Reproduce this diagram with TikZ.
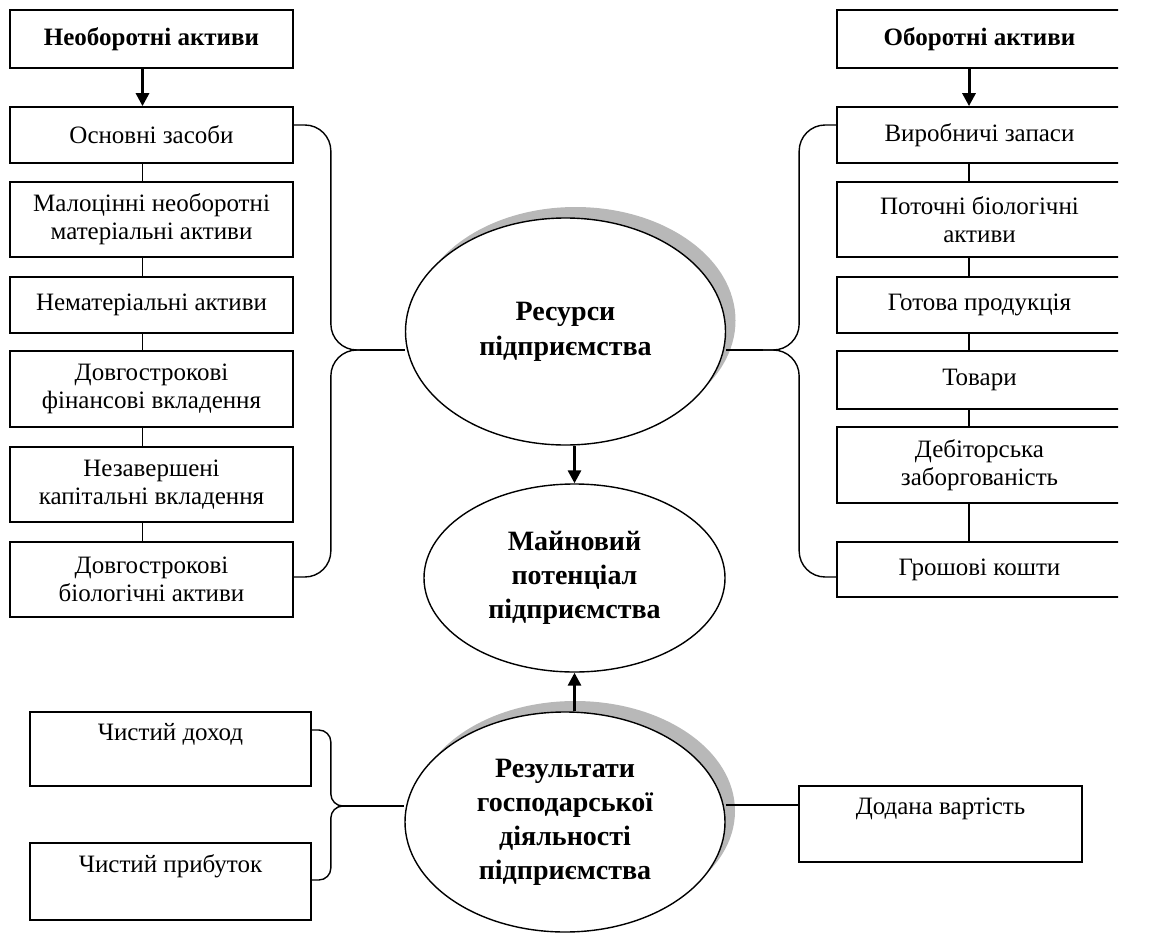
\documentclass[tikz,border=0pt]{standalone}
\usepackage{fontspec}
\setmainfont{Liberation Serif}
\usetikzlibrary{shapes.geometric,arrows.meta,calc}
\begin{document}
\begin{tikzpicture}[x=1pt,y=-1pt,
  box/.style={draw, line width=1.7pt, align=center, inner sep=0pt,
    font=\fontsize{25}{28}\selectfont},
  ttl/.style={box, font=\bfseries\fontsize{25}{28}\selectfont},
  txt/.style={inner sep=0pt, font=\fontsize{25}{28}\selectfont},
  oval/.style={ellipse, draw, line width=1.4pt, fill=white, inner sep=0pt, align=center,
    font=\bfseries\fontsize{28}{34}\selectfont},
  shade/.style={ellipse, fill=black!28, inner sep=0pt},
  link/.style={line width=1.4pt},
  brace/.style={line width=1.4pt},
  bigarrow/.style={line width=3pt, -{Triangle[length=13pt,width=13pt]}}
]
\useasboundingbox (0,0) rectangle (1158,934);

% ---------- left column ----------
\node[ttl, minimum width=283pt, minimum height=58pt] (lt) at (151.5,39) {Необоротні активи};
\node[box, minimum width=283pt, minimum height=56pt] (l1) at (151.5,135) {Основні засоби};
\node[box, minimum width=283pt, minimum height=75pt] (l2) at (151.5,219.5) {Малоцінні необоротні\\матеріальні активи};
\node[box, minimum width=283pt, minimum height=56pt] (l3) at (151.5,305) {Нематеріальні активи};
\node[box, minimum width=283pt, minimum height=76pt] (l4) at (151.5,389) {Довгострокові\\фінансові вкладення};
\node[box, minimum width=283pt, minimum height=75pt] (l5) at (151.5,484.5) {Незавершені\\капітальні вкладення};
\node[box, minimum width=283pt, minimum height=75pt] (l6) at (151.5,579.5) {Довгострокові\\біологічні активи};

\draw[bigarrow] ([xshift=-9pt]lt.south) -- ([xshift=-9pt]l1.north);
\draw[link] ([xshift=-9pt]l1.south) -- ([xshift=-9pt]l2.north);
\draw[link] ([xshift=-9pt]l2.south) -- ([xshift=-9pt]l3.north);
\draw[link] ([xshift=-9pt]l3.south) -- ([xshift=-9pt]l4.north);
\draw[link] ([xshift=-9pt]l4.south) -- ([xshift=-9pt]l5.north);
\draw[link] ([xshift=-9pt]l5.south) -- ([xshift=-9pt]l6.north);

% ---------- right column (cut at the right edge) ----------
\begin{scope}
\clip (0,0) rectangle (1118,934);
\node[ttl, minimum width=285pt, minimum height=58pt] (rt) at (979.5,39) {Оборотні активи};
\node[box, minimum width=285pt, minimum height=56pt] (r1) at (979.5,135) {Виробничі запаси};
\node[box, minimum width=285pt, minimum height=75pt] (r2) at (979.5,219.5) {Поточні біологічні\\активи};
\node[box, minimum width=285pt, minimum height=56pt] (r3) at (979.5,305) {Готова продукція};
\node[box, minimum width=285pt, minimum height=58pt] (r4) at (979.5,380) {Товари};
\node[box, minimum width=285pt, minimum height=76pt] (r5) at (979.5,465) {Дебіторська\\заборгованість};
\node[box, minimum width=285pt, minimum height=55pt] (r6) at (979.5,569.5) {Грошові кошти};
\end{scope}

\draw[bigarrow] ([xshift=-10.5pt]rt.south) -- ([xshift=-10.5pt]r1.north);
\draw[link] ([xshift=-10.5pt]r1.south) -- ([xshift=-10.5pt]r2.north);
\draw[link] ([xshift=-10.5pt]r2.south) -- ([xshift=-10.5pt]r3.north);
\draw[link] ([xshift=-10.5pt]r3.south) -- ([xshift=-10.5pt]r4.north);
\draw[link] ([xshift=-10.5pt]r4.south) -- ([xshift=-10.5pt]r5.north);
\draw[link] ([xshift=-10.5pt]r5.south) -- ([xshift=-10.5pt]r6.north);

% ---------- ellipses ----------
\node[shade, minimum width=320pt, minimum height=227pt] (ressh) at (575.5,320.5) {};
\node[oval, minimum width=320pt, minimum height=227pt] (res) at (565.5,331.5) {Ресурси\\[1pt]підприємства};
\node[oval, minimum width=301pt, minimum height=188pt] (mp) at (574.5,578) {Майновий\\потенціал\\підприємства};
\node[shade, minimum width=320pt, minimum height=220pt] (rezsh) at (575,811) {};
\node[oval, minimum width=320pt, minimum height=220pt] (rez) at (565,822) {Результати\\господарської\\діяльності\\підприємства};

\draw[bigarrow] (res.south -| mp.north) -- (mp.north);
\draw[bigarrow] (rez.north -| mp.south) -- (mp.south);

% ---------- braces ----------
\coordinate (ltip) at (360,350);
\draw[brace, rounded corners=26pt] ([yshift=10pt]l1.east) -- ++(37,0) |- (ltip);
\draw[brace, rounded corners=26pt] ([yshift=2.5pt]l6.east) -- ++(37,0) |- (ltip);
\draw[link] (ltip) -- (ltip -| res.west);

\coordinate (rtip) at (763,350);
\draw[brace, rounded corners=26pt] ([yshift=10pt]r1.west) -- ++(-37,0) |- (rtip);
\draw[brace, rounded corners=26pt] ([yshift=-7.5pt]r6.west) -- ++(-37,0) |- (rtip);
\draw[link] (rtip -| res.east) -- (rtip);

% ---------- bottom boxes ----------
\node[box, minimum width=281pt, minimum height=74pt] (d1) at (170.5,749) {};
\node[txt] (d1t) at ([yshift=-23pt]d1.north) {Чистий доход};
\node[box, minimum width=281pt, minimum height=77pt] (d2) at (170.5,881.5) {};
\node[txt] (d2t) at ([yshift=-24pt]d2.north) {Чистий прибуток};
\node[box, minimum width=283pt, minimum height=76pt] (dv) at (940.5,824) {};
\node[txt] (dvt) at ([yshift=-24pt]dv.north) {Додана вартість};

\coordinate (btip) at (342,806);
\draw[brace, rounded corners=12pt] ([yshift=19pt]d1.east) -- ++(19,0) |- (btip);
\draw[brace, rounded corners=12pt] ([yshift=1.5pt]d2.east) -- ++(19,0) |- (btip);
\draw[link] (btip) -- (btip -| rez.west);

\coordinate (dvin) at ([yshift=19pt]dv.west);
\draw[link] (dvin -| rez.east) -- (dvin);
\end{tikzpicture}
\end{document}
